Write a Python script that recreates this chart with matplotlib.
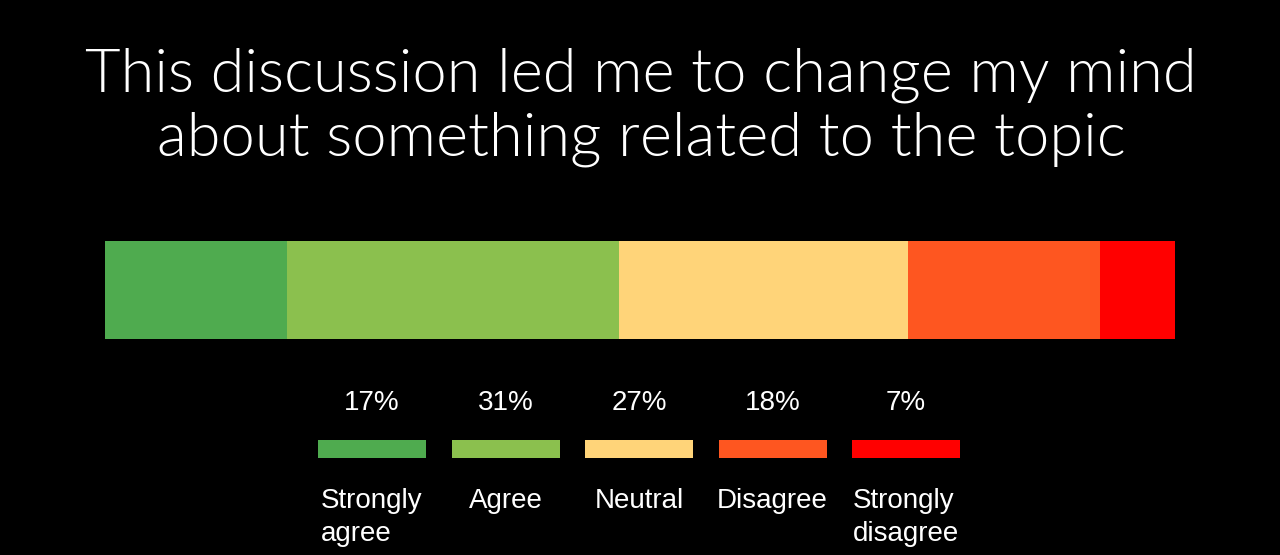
import matplotlib
matplotlib.use("Agg")
import matplotlib.pyplot as plt

title = "This discussion led me to change my mind\nabout something related to the topic"
categories = ["Strongly\nagree", "Agree", "Neutral", "Disagree", "Strongly\ndisagree"]
values = [17, 31, 27, 18, 7]
pct_labels = ["17%", "31%", "27%", "18%", "7%"]
colors = ["#4fab4f", "#8bc04e", "#ffd479", "#fe5620", "#ff0000"]

W, H = 1280, 555
fig = plt.figure(figsize=(W / 100, H / 100), dpi=100, facecolor="black")

# Stacked bar
ax = fig.add_axes([105 / W, (H - 339) / H, 1070 / W, 98 / H])
ax.set_facecolor("black")
left = 0
for v, c in zip(values, colors):
    ax.barh(0, v, left=left, height=1, color=c, edgecolor="none")
    left += v
ax.set_xlim(0, sum(values))
ax.set_ylim(-0.5, 0.5)
ax.axis("off")

# Overlay axes in pixel coordinates for title and legend
ov = fig.add_axes([0, 0, 1, 1])
ov.set_xlim(0, W)
ov.set_ylim(H, 0)
ov.axis("off")
ov.patch.set_alpha(0)

ov.text(641, 107, title, ha="center", va="center", color="white",
        fontsize=44.2, family="Lato", fontweight=300, linespacing=1.2)

x0, step, sw = 318, 133.5, 108
for i, (cat, pl, c) in enumerate(zip(categories, pct_labels, colors)):
    xs = x0 + i * step
    ov.add_patch(plt.Rectangle((xs, 440), sw, 18, color=c, lw=0))
    cx = xs + sw / 2
    ov.text(cx, 403, pl, ha="center", va="center", color="white",
            fontsize=20, family="Liberation Sans")
    ov.text(cx, 488, cat, ha="center", va="top", color="white",
            fontsize=20, family="Liberation Sans", multialignment="left",
            linespacing=1.35)

fig.savefig("out.png", dpi=100, facecolor="black")
